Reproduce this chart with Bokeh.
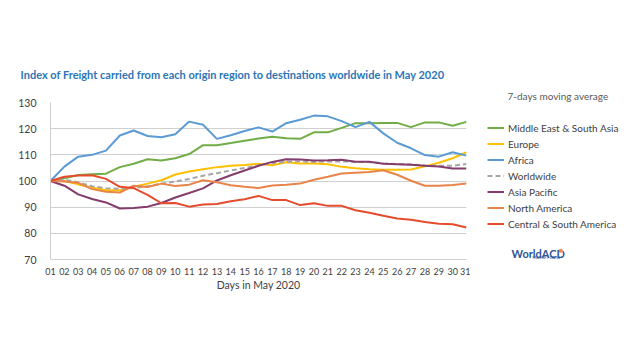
from bokeh.plotting import figure
from bokeh.models import Legend, LegendItem, Label, FixedTicker, Range1d
from bokeh.layouts import row
from bokeh.embed import file_html
from bokeh.resources import INLINE

days = list(range(1, 32))
day_labels = ["%02d" % d for d in days]
y_ticks = [70, 80, 90, 100, 110, 120, 130]

me_sa = [100, 101, 102.3, 102.6, 102.8, 105.3, 106.6, 108.3, 107.8, 108.7, 110.3, 113.7, 113.7, 114.5, 115.4, 116.2,
         116.9, 116.3, 116.1, 118.6, 118.6, 120.3, 122.1, 122.1, 122.2, 122.2, 120.6, 122.4, 122.4, 121.1, 122.6]
europe = [100, 100, 98.7, 97.5, 96.5, 96.5, 97.8, 99, 100.3, 102.5, 103.6, 104.5, 105.3, 105.8, 106.1, 106.6,
          106, 107.2, 106.7, 106.7, 106.4, 105.4, 104.9, 104.5, 104.3, 104.3, 104.4, 105.6, 107, 108.7, 111]
africa = [100, 105.5, 109.3, 110, 111.6, 117.4, 119.3, 117.2, 116.7, 117.9, 122.7, 121.5, 116.1, 117.5, 119.1, 120.5,
          118.9, 122.1, 123.4, 125, 124.7, 122.9, 120.6, 122.6, 118.2, 114.6, 112.5, 109.9, 109.3, 111, 109.7]
worldwide = [100, 100.5, 99.5, 98, 97.2, 97, 97.3, 98, 99, 99.8, 100.8, 102, 103, 104, 105, 106,
             106.8, 107.3, 107.5, 107.3, 107.5, 107.5, 107.3, 107.2, 106.8, 106.5, 106.3, 106, 105.8, 105.8, 106.5]
asia_pacific = [100, 98.2, 94.9, 93.1, 91.8, 89.5, 89.7, 90.2, 91.6, 93.7, 95.4, 97.2, 100.2, 102.2, 104, 105.8,
                107.3, 108.3, 108.2, 107.8, 107.9, 108.1, 107.4, 107.4, 106.6, 106.4, 106.2, 105.8, 105.5, 104.8, 104.8]
north_america = [100, 99.8, 99.3, 96.9, 95.9, 95.6, 98.2, 97.7, 99, 98.1, 98.6, 100.3, 99.5, 98.4, 97.8, 97.3,
                 98.3, 98.6, 99, 100.5, 101.6, 102.9, 103.2, 103.4, 104.1, 102.4, 100.1, 98.2, 98.2, 98.5, 99]
cs_america = [100, 101.6, 102.1, 102.2, 100.8, 97.8, 97.3, 94.7, 91.5, 91.6, 90.2, 91, 91.2, 92.3, 93, 94.3,
              92.7, 92.7, 90.8, 91.5, 90.5, 90.5, 88.8, 87.9, 86.7, 85.7, 85.2, 84.3, 83.7, 83.5, 82.2]

series = [
    ("Middle East & South Asia", me_sa, "#70AD47", None),
    ("Europe", europe, "#FFC000", None),
    ("Africa", africa, "#5B9BD5", None),
    ("Worldwide", worldwide, "#A5A5A5", "5 3"),
    ("Asia Pacific", asia_pacific, "#843C6C", None),
    ("North America", north_america, "#E8834A", None),
    ("Central & South America", cs_america, "#E64B2E", None),
]

FONT = "Lato"
TITLE = "Index of Freight carried from each origin region to destinations worldwide in May 2020"

# ---- main chart ----
p = figure(width=470, height=337, output_backend="svg", toolbar_location=None,
           x_range=Range1d(1, 31), y_range=Range1d(70, 130),
           min_border_left=50, min_border_right=4, min_border_top=102, min_border_bottom=78)
p.outline_line_color = None
p.background_fill_color = "white"
p.border_fill_color = "white"

p.title.text = TITLE
p.title.align = "left"
p.title.offset = -30
p.title.standoff = 44
p.title.text_font = FONT
p.title.text_font_style = "bold"
p.title.text_font_size = "11px"
p.title.text_color = "#2E75B6"

p.xgrid.grid_line_color = None
p.ygrid.grid_line_color = "#D0D0D0"
p.ygrid.grid_line_width = 1

p.xaxis.ticker = FixedTicker(ticks=days)
p.xaxis.major_label_overrides = {d: lab for d, lab in zip(days, day_labels)}
p.yaxis.ticker = FixedTicker(ticks=y_ticks)
for ax in (p.xaxis, p.yaxis):
    ax.major_tick_line_color = None
    ax.minor_tick_line_color = None
    ax.axis_line_color = "#D0D0D0"
    ax.major_label_text_font = FONT
    ax.major_label_text_color = "#404040"
p.xaxis.major_label_text_font_size = "9px"
p.yaxis.major_label_text_font_size = "10.5px"
p.xaxis.major_label_standoff = 2
p.yaxis.major_label_standoff = 8
p.xaxis.axis_label = "Days in May 2020"
p.xaxis.axis_label_text_font = FONT
p.xaxis.axis_label_text_font_style = "normal"
p.xaxis.axis_label_text_font_size = "10.5px"
p.xaxis.axis_label_text_color = "#404040"
p.xaxis.axis_label_standoff = 1

for name, vals, color, dash in series:
    kw = dict(line_color=color, line_width=2)
    if dash:
        kw["line_dash"] = dash
    p.line(days, vals, **kw)

# ---- right side: legend and notes (its frame is aligned with the chart frame) ----
q = figure(width=174, height=337, output_backend="svg", toolbar_location=None,
           x_range=Range1d(1000, 1001), y_range=Range1d(0, 1),
           x_axis_location=None, y_axis_location=None,
           min_border_left=0, min_border_right=0, min_border_top=0, min_border_bottom=0)
q.outline_line_color = None
q.grid.grid_line_color = None
q.background_fill_color = "white"
q.border_fill_color = "white"

q.title.text = "7-days moving average"
q.title.align = "left"
q.title.offset = 37
q.title.standoff = 2
q.title.text_font = FONT
q.title.text_font_style = "normal"
q.title.text_font_size = "10px"
q.title.text_color = "#595959"

items = []
for name, vals, color, dash in series:
    kw = dict(line_color=color, line_width=2)
    if dash:
        kw["line_dash"] = dash
    r = q.line(days, vals, **kw)  # legend proxies, outside the visible range
    items.append(LegendItem(label=name, renderers=[r]))

legend = Legend(items=items, location=(17, 28), padding=0, margin=0, spacing=1,
                label_height=15, glyph_height=15, glyph_width=17, label_standoff=4,
                border_line_color=None, background_fill_alpha=0,
                label_text_font=FONT, label_text_font_size="10px", label_text_color="#404040")
q.add_layout(legend, "center")

q.add_layout(Label(x=41, y=6, x_units="screen", y_units="screen", text="WorldACD",
                   text_font=FONT, text_font_style="bold", text_font_size="11px", text_color="#2F5597",
                   text_baseline="middle"))
q.add_layout(Label(x=88, y=10, x_units="screen", y_units="screen", text="\u25CF",
                   text_font=FONT, text_font_size="8px", text_color="#F08A4B", text_baseline="middle"))
q.add_layout(Label(x=62, y=2, x_units="screen", y_units="screen", text="MARKET DATA",
                   text_font=FONT, text_font_size="4px", text_color="#2F5597", text_baseline="middle"))

layout = row(p, q, spacing=0)
open("out.html", "w").write(file_html(layout, INLINE))
